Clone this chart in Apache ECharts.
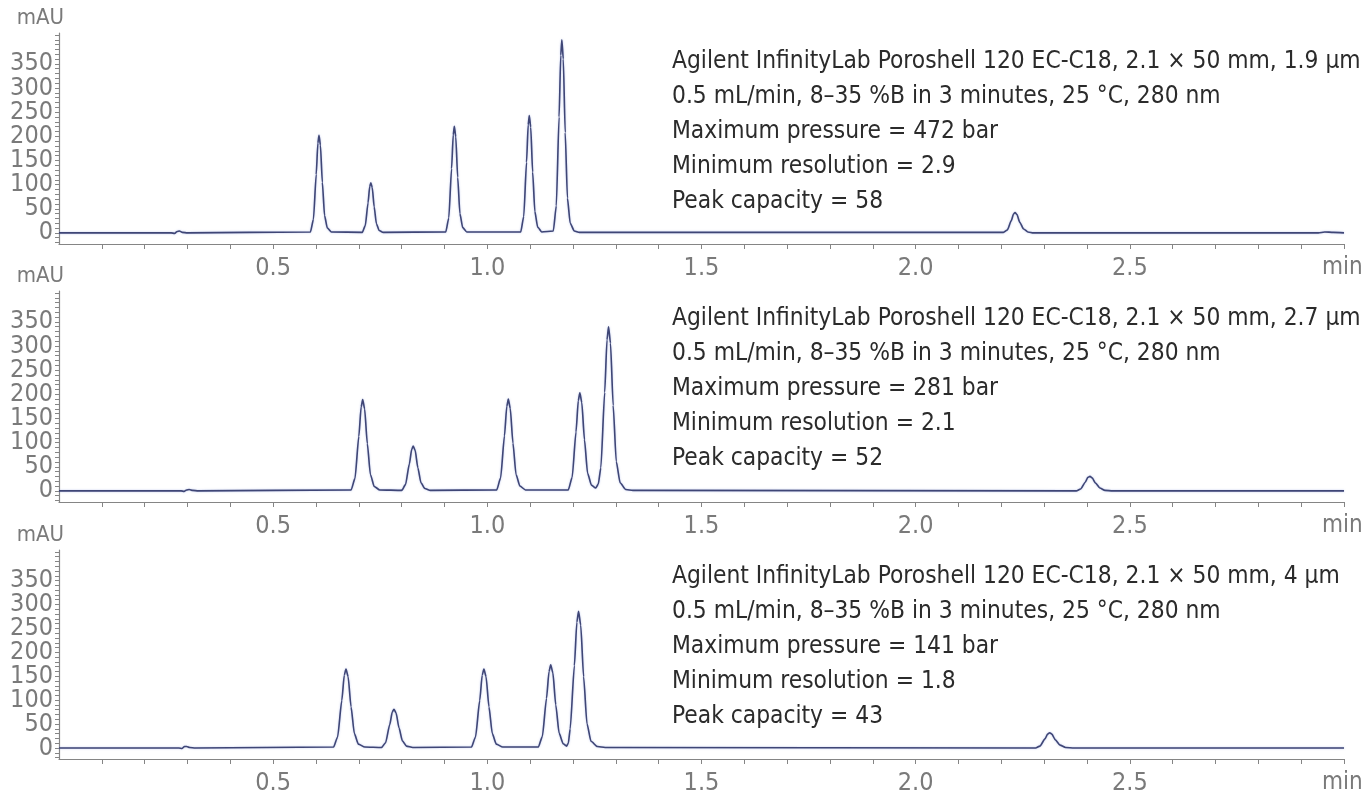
<!DOCTYPE html>
<html>
<head>
<meta charset="utf-8">
<script src="https://cdn.jsdelivr.net/npm/echarts@6/dist/echarts.min.js"></script>
<style>
html,body{margin:0;padding:0;background:#fff;}
#chart{width:1367px;height:796px;}
</style>
</head>
<body>
<div id="chart"></div>
<script>
// ---- tick values / labels ----
const xTickValues = [0.1,0.2,0.3,0.4,0.5,0.6,0.7,0.8,0.9,1.0,1.1,1.2,1.3,1.4,1.5,1.6,1.7,1.8,1.9,2.0,2.1,2.2,2.3,2.4,2.5,2.6,2.7,2.8,2.9,3.0];
const xLabelValues = [0.5, 1.0, 1.5, 2.0, 2.5];
const yTickValues = [-20,-10,0,10,20,30,40,50,60,70,80,90,100,110,120,130,140,150,160,170,180,190,200,210,220,230,240,250,260,270,280,290,300,310,320,330,340,350,360,370,380,390,400,410];
const yLabelValuesEven = [0, 100, 200, 300];
const yLabelValuesOdd = [50, 150, 250, 350];

// ---- chromatogram traces [time (min), signal (mAU)] ----
const trace19 = [
  [0,0],[0.262,0],[0.27,-1],[0.276,3],[0.281,4],[0.288,1],[0.3,0],
  [0.587,2],[0.594,28],[0.6005,121],[0.6044,186],[0.607,202],[0.6103,182],[0.6148,105],[0.620,36],[0.6265,10],[0.636,2],
  [0.708,1],[0.715,15],[0.7215,62],[0.7254,96],[0.728,104],[0.7313,94],[0.7358,54],[0.741,19],[0.7475,5],[0.757,1],
  [0.903,2],[0.910,31],[0.9165,133],[0.9204,203],[0.923,221],[0.9263,199],[0.9308,115],[0.936,40],[0.9425,11],[0.952,2],
  [1.078,2],[1.085,34],[1.0915,146],[1.0954,224],[1.098,243],[1.1013,219],[1.1058,126],[1.111,44],[1.1175,12],[1.127,2],
  [1.154,4],[1.161,56],[1.1675,240],[1.1714,368],[1.174,400],[1.1773,360],[1.1818,208],[1.187,72],[1.1935,20],[1.203,4],[1.215,1],
  [2.205,1],[2.214,6],[2.223,25],[2.2285,39],[2.232,42],[2.2365,38],[2.243,22],[2.252,8],[2.262,2],[2.275,0],
  [2.94,0],[2.955,2],[2.975,1],[3.0,0]
];
const trace27 = [
  [0,0],[0.285,0],[0.292,-1],[0.298,2],[0.304,3],[0.312,1],[0.325,0],
  [0.682,2],[0.691,26],[0.700,113],[0.7054,174],[0.709,189],[0.7135,170],[0.7198,98],[0.727,34],[0.736,9],[0.749,2],
  [0.800,1],[0.809,13],[0.818,56],[0.8234,86],[0.827,93],[0.8315,84],[0.8378,48],[0.845,17],[0.854,5],[0.867,1],
  [1.022,2],[1.031,27],[1.040,114],[1.0454,175],[1.049,190],[1.0535,171],[1.0598,99],[1.067,34],[1.076,10],[1.089,2],
  [1.189,2],[1.198,28],[1.207,122],[1.2124,187],[1.216,203],[1.2205,183],[1.2268,106],[1.234,37],[1.243,12],[1.253,6],
  [1.259,14],[1.265,48],[1.274,204],[1.2794,313],[1.283,340],[1.2875,306],[1.2938,177],[1.301,61],[1.310,17],[1.323,3],[1.34,1],
  [2.375,0],[2.385,4],[2.396,18],[2.402,28],[2.407,30],[2.412,27],[2.42,16],[2.43,6],[2.442,1],[2.46,0],
  [3.0,0]
];
const trace40 = [
  [0,0],[0.28,0],[0.287,-1],[0.293,3],[0.298,3],[0.305,1],[0.318,0],
  [0.641,2],[0.6504,23],[0.6602,99],[0.666,152],[0.670,165],[0.675,149],[0.6818,86],[0.6896,30],[0.699,8],[0.714,2],
  [0.753,1],[0.7624,11],[0.7722,49],[0.778,75],[0.782,81],[0.787,73],[0.7938,42],[0.8016,15],[0.811,4],[0.826,1],
  [0.963,2],[0.9724,23],[0.9822,99],[0.988,152],[0.992,165],[0.997,149],[1.0038,86],[1.0116,30],[1.021,8],[1.036,2],
  [1.119,2],[1.1284,24],[1.1382,104],[1.144,160],[1.148,174],[1.153,157],[1.1598,90],[1.1676,31],[1.177,9],[1.185,4],
  [1.189,10],[1.1934,40],[1.2032,172],[1.209,263],[1.213,286],[1.218,257],[1.2248,149],[1.2326,51],[1.242,14],[1.257,3],[1.275,1],
  [2.28,0],[2.29,4],[2.302,19],[2.308,29],[2.313,32],[2.318,29],[2.326,17],[2.337,6],[2.35,1],[2.37,0],
  [3.0,0]
];

// ---- annotation text ----
const notes19 = ["Agilent InfinityLab Poroshell 120 EC-C18, 2.1 \u00d7 50 mm, 1.9 \u00b5m","0.5 mL/min, 8\u201335 %B in 3 minutes, 25 \u00b0C, 280 nm","Maximum pressure = 472 bar","Minimum resolution = 2.9","Peak capacity = 58"];
const notes27 = ["Agilent InfinityLab Poroshell 120 EC-C18, 2.1 \u00d7 50 mm, 2.7 \u00b5m","0.5 mL/min, 8\u201335 %B in 3 minutes, 25 \u00b0C, 280 nm","Maximum pressure = 281 bar","Minimum resolution = 2.1","Peak capacity = 52"];
const notes40 = ["Agilent InfinityLab Poroshell 120 EC-C18, 2.1 \u00d7 50 mm, 4 \u00b5m","0.5 mL/min, 8\u201335 %B in 3 minutes, 25 \u00b0C, 280 nm","Maximum pressure = 141 bar","Minimum resolution = 1.8","Peak capacity = 43"];

const traces = [trace19, trace27, trace40];
const notes = [notes19, notes27, notes40];

const FONT = "'Liberation Sans Narrow','DejaVu Sans Condensed',sans-serif";
const AXIS_COLOR = '#858585';
const LABEL_COLOR = '#7a7a7a';
const gridTops = [33, 291, 550];
const noteTops = [63, 320, 578];
const Y_MIN = -23, Y_MAX = 414;

const grids = [], xAxes = [], yAxes = [], series = [], graphics = [];
const yLabelStyle = {fontFamily: FONT, fontSize: 25, lineHeight: 18, color: LABEL_COLOR, margin: 6,
  showMinLabel: true, showMaxLabel: true, hideOverlap: false};
gridTops.forEach((top, i) => {
  grids.push({left: 59, right: 23, top: top, height: 211});
  xAxes.push({
    type: 'value', gridIndex: i, min: 0, max: 3,
    axisLine: {show: true, onZero: false, lineStyle: {color: AXIS_COLOR, width: 1.2}},
    axisTick: {show: true, length: 5, customValues: xTickValues, lineStyle: {color: AXIS_COLOR}},
    axisLabel: {customValues: xLabelValues, formatter: v => v.toFixed(1), fontFamily: FONT, fontSize: 25, color: LABEL_COLOR, margin: 12},
    splitLine: {show: false},
    name: 'min', nameLocation: 'end', nameGap: -22,
    nameTextStyle: {fontFamily: FONT, fontSize: 24, color: LABEL_COLOR, align: 'left', verticalAlign: 'top', padding: [12, 0, 0, 0]}
  });
  // main y axis: line, ticks, even labels, unit name
  yAxes.push({
    type: 'value', gridIndex: i, min: Y_MIN, max: Y_MAX, position: 'left',
    axisLine: {show: true, onZero: false, lineStyle: {color: AXIS_COLOR, width: 1.2}},
    axisTick: {show: true, length: 4, customValues: yTickValues, lineStyle: {color: AXIS_COLOR}},
    axisLabel: Object.assign({customValues: yLabelValuesEven}, yLabelStyle),
    splitLine: {show: false},
    name: 'mAU', nameLocation: 'end', nameGap: 4,
    nameTextStyle: {fontFamily: FONT, fontSize: 22, color: LABEL_COLOR, align: 'right', verticalAlign: 'bottom', padding: [0, -5, 0, 0]}
  });
  // companion y axis at the same place carrying the odd labels
  yAxes.push({
    type: 'value', gridIndex: i, min: Y_MIN, max: Y_MAX, position: 'left', offset: 0,
    axisLine: {show: false}, axisTick: {show: false},
    axisLabel: Object.assign({customValues: yLabelValuesOdd}, yLabelStyle),
    splitLine: {show: false}
  });
  series.push({
    type: 'line', xAxisIndex: i, yAxisIndex: 2 * i, data: traces[i],
    showSymbol: false, smooth: 0.2, smoothMonotone: 'x',
    lineStyle: {color: '#3f4676', width: 1.6, shadowColor: 'rgba(130,150,220,0.55)', shadowBlur: 2},
    animation: false
  });
  notes[i].forEach((line, k) => {
    graphics.push({
      type: 'text', left: 672, top: noteTops[i] + k * 34.8 - 13,
      style: {text: line, font: "24.3px 'Liberation Sans Narrow','DejaVu Sans Condensed',sans-serif", fill: '#2b2b2b'}
    });
  });
});

const chart = echarts.init(document.getElementById('chart'));
chart.setOption({
  animation: false,
  grid: grids, xAxis: xAxes, yAxis: yAxes, series: series, graphic: graphics
});
</script>
</body>
</html>
